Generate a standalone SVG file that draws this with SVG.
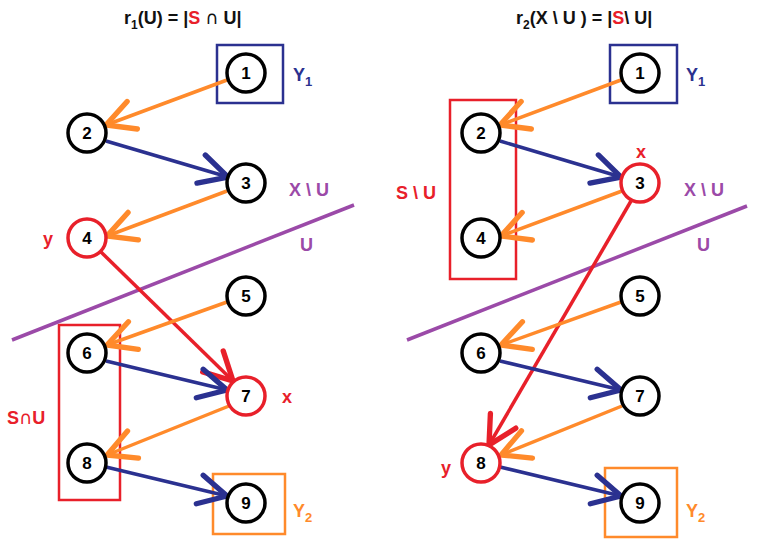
<svg xmlns="http://www.w3.org/2000/svg" width="768" height="558" viewBox="0 0 768 558">
<defs>
<style>
.nd{fill:#fff;stroke:#000;stroke-width:3.5}
.nr{fill:#fff;stroke:#e8202a;stroke-width:3.5}
.num{font-family:"Liberation Sans",Arial,sans-serif;font-weight:bold;font-size:17px;text-anchor:middle;fill:#000}
.lbl{font-family:"Liberation Sans",Arial,sans-serif;font-weight:bold;font-size:18px}
.ttl{font-family:"Liberation Sans",Arial,sans-serif;font-weight:bold;font-size:18px;fill:#111}
.cap{font-family:"DejaVu Sans",sans-serif}
.eo{stroke:#ff8a2b;stroke-width:3.5;fill:none;marker-end:url(#ao)}
.eb{stroke:#2b3190;stroke-width:3.5;fill:none;marker-end:url(#ab)}
.er{stroke:#e8202a;stroke-width:3.5;fill:none;marker-end:url(#ar)}
.pu{stroke:#9b4aa8;stroke-width:3.5}
</style>
<marker id="ao" markerUnits="userSpaceOnUse" markerWidth="40" markerHeight="40" refX="0" refY="0" viewBox="-22 -15 26 30" orient="auto" overflow="visible"><path d="M-21,-11 L0,0 L-21,11" fill="none" stroke="#ff8a2b" stroke-width="4" stroke-linecap="round"/></marker>
<marker id="ab" markerUnits="userSpaceOnUse" markerWidth="40" markerHeight="40" refX="0" refY="0" viewBox="-22 -15 26 30" orient="auto" overflow="visible"><path d="M-21,-11 L0,0 L-21,11" fill="none" stroke="#2b3190" stroke-width="4" stroke-linecap="round"/></marker>
<marker id="ar" markerUnits="userSpaceOnUse" markerWidth="40" markerHeight="40" refX="0" refY="0" viewBox="-22 -15 26 30" orient="auto" overflow="visible"><path d="M-21,-11 L0,0 L-21,11" fill="none" stroke="#e8202a" stroke-width="4" stroke-linecap="round"/></marker>
</defs>
<rect width="768" height="558" fill="#fff"/>

<!-- titles -->
<text class="ttl" x="124" y="24">r<tspan font-size="12" dy="5">1</tspan><tspan dy="-5">(U) = |</tspan><tspan fill="#e8202a">S</tspan> <tspan class="cap" font-weight="normal">∩</tspan> U|</text>
<text class="ttl" x="516" y="24">r<tspan font-size="12" dy="5">2</tspan><tspan dy="-5">(X \ U ) = |</tspan><tspan fill="#e8202a">S</tspan>\ U|</text>

<!-- boxes and separators -->
<g id="boxes">
<rect x="217" y="45" width="66" height="58" fill="none" stroke="#2b3190" stroke-width="2.5"/>
<rect x="213" y="474" width="72" height="60" fill="none" stroke="#ff8a2b" stroke-width="2.5"/>
<rect x="59" y="325" width="61" height="175" fill="none" stroke="#e8202a" stroke-width="2.5"/>
<rect x="610" y="45" width="67" height="58" fill="none" stroke="#2b3190" stroke-width="2.5"/>
<rect x="605" y="468" width="72" height="69" fill="none" stroke="#ff8a2b" stroke-width="2.5"/>
<rect x="450" y="100" width="66" height="179" fill="none" stroke="#e8202a" stroke-width="2.5"/>
<line class="pu" x1="12" y1="340" x2="354" y2="205"/>
<line class="pu" x1="407" y1="340" x2="747" y2="206"/>
</g>

<!-- connectors -->
<g id="connectors">
<line class="eo" x1="227" y1="80" x2="106" y2="125"/>
<line class="eb" x1="106" y1="141" x2="228" y2="177"/>
<line class="eo" x1="227" y1="191" x2="107" y2="236"/>
<line class="er" x1="101" y1="252" x2="233" y2="381"/>
<line class="eo" x1="227" y1="302" x2="107" y2="345"/>
<line class="eb" x1="106" y1="361" x2="227" y2="390"/>
<line class="eo" x1="229" y1="406" x2="107" y2="455"/>
<line class="eb" x1="106" y1="467" x2="227" y2="496"/>

<line class="eo" x1="621" y1="80" x2="500" y2="125"/>
<line class="eb" x1="500" y1="141" x2="621" y2="177"/>
<line class="eo" x1="622" y1="191" x2="501" y2="236"/>
<line class="er" x1="631" y1="201" x2="489" y2="445"/>
<line class="eo" x1="621" y1="302" x2="501" y2="345"/>
<line class="eb" x1="500" y1="361" x2="621" y2="390"/>
<line class="eo" x1="622" y1="406" x2="501" y2="455"/>
<line class="eb" x1="500" y1="467" x2="621" y2="496"/>
</g>

<!-- left nodes -->
<g id="L1"><circle class="nd" cx="246" cy="73" r="19"/><text class="num" x="246" y="79">1</text></g>
<g id="L2"><circle class="nd" cx="87" cy="133" r="19"/><text class="num" x="87" y="139">2</text></g>
<g id="L3"><circle class="nd" cx="246" cy="183" r="19"/><text class="num" x="246" y="189">3</text></g>
<g id="L4"><circle class="nr" cx="87" cy="238" r="19"/><text class="num" x="87" y="244">4</text></g>
<g id="L5"><circle class="nd" cx="246" cy="296" r="19"/><text class="num" x="246" y="302">5</text></g>
<g id="L6"><circle class="nd" cx="87" cy="353" r="19"/><text class="num" x="87" y="359">6</text></g>
<g id="L7"><circle class="nr" cx="246" cy="396" r="19"/><text class="num" x="246" y="402">7</text></g>
<g id="L8"><circle class="nd" cx="87" cy="463" r="19"/><text class="num" x="87" y="469">8</text></g>
<g id="L9"><circle class="nd" cx="246" cy="503" r="19"/><text class="num" x="246" y="509">9</text></g>

<!-- right nodes -->
<g id="R1"><circle class="nd" cx="640" cy="73" r="19"/><text class="num" x="640" y="79">1</text></g>
<g id="R2"><circle class="nd" cx="481" cy="133" r="19"/><text class="num" x="481" y="139">2</text></g>
<g id="R3"><circle class="nr" cx="640" cy="183" r="19"/><text class="num" x="640" y="189">3</text></g>
<g id="R4"><circle class="nd" cx="481" cy="238" r="19"/><text class="num" x="481" y="244">4</text></g>
<g id="R5"><circle class="nd" cx="640" cy="296" r="19"/><text class="num" x="640" y="302">5</text></g>
<g id="R6"><circle class="nd" cx="481" cy="353" r="19"/><text class="num" x="481" y="359">6</text></g>
<g id="R7"><circle class="nd" cx="640" cy="396" r="19"/><text class="num" x="640" y="402">7</text></g>
<g id="R8"><circle class="nr" cx="481" cy="463" r="19"/><text class="num" x="481" y="469">8</text></g>
<g id="R9"><circle class="nd" cx="640" cy="503" r="19"/><text class="num" x="640" y="509">9</text></g>

<!-- labels -->
<g id="labels">
<text class="lbl" x="293" y="81" fill="#2b3190" font-size="20">Y<tspan font-size="13" dy="5">1</tspan></text>
<text class="lbl" x="293" y="517" fill="#ff8a2b" font-size="20">Y<tspan font-size="13" dy="5">2</tspan></text>
<text class="lbl" x="289" y="196" fill="#9b4aa8">X \ U</text>
<text class="lbl" x="300" y="251" fill="#9b4aa8">U</text>
<text class="lbl" x="43" y="245" fill="#e8202a">y</text>
<text class="lbl" x="282" y="403" fill="#e8202a">x</text>
<text class="lbl" x="7" y="424" fill="#e8202a" font-size="19">S<tspan class="cap" font-weight="normal">∩</tspan>U</text>

<text class="lbl" x="686" y="81" fill="#2b3190" font-size="20">Y<tspan font-size="13" dy="5">1</tspan></text>
<text class="lbl" x="686" y="517" fill="#ff8a2b" font-size="20">Y<tspan font-size="13" dy="5">2</tspan></text>
<text class="lbl" x="684" y="196" fill="#9b4aa8">X \ U</text>
<text class="lbl" x="697" y="251" fill="#9b4aa8">U</text>
<text class="lbl" x="636" y="158" fill="#e8202a">x</text>
<text class="lbl" x="441" y="474" fill="#e8202a">y</text>
<text class="lbl" x="396" y="199" fill="#e8202a">S \ U</text>
</g>
</svg>
